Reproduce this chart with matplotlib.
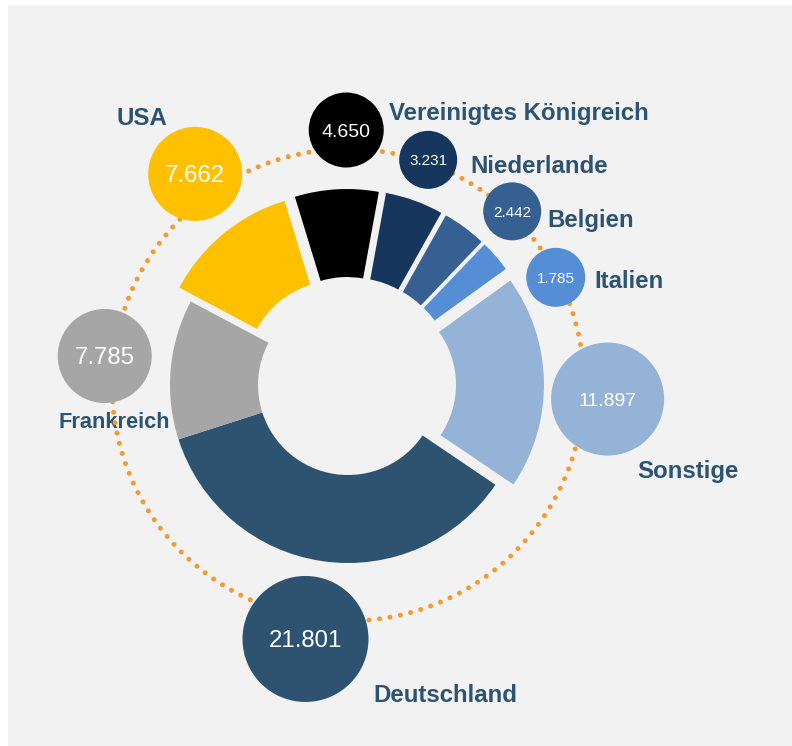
import numpy as np
import matplotlib.pyplot as plt
from matplotlib.patches import Circle, Rectangle

plt.rcParams['font.family'] = ['Liberation Sans', 'DejaVu Sans']

# Daten (im Uhrzeigersinn ab oben)
countries = ['Vereinigtes Königreich', 'Niederlande', 'Belgien', 'Italien',
             'Sonstige', 'Deutschland', 'Frankreich', 'USA']
values = [4650, 3231, 2442, 1785, 11897, 21801, 7785, 7662]
colors = ['#000000', '#17365d', '#376092', '#558ed5',
          '#95b3d7', '#2d5370', '#a6a6a6', '#ffc000']
explode = [18, 18, 18, 18, 18, 0, 0, 18]

# Blasen: Winkel (Grad), Abstand vom Mittelpunkt, Radius (px)
bubble_angle = [90.4, 70.4, 46.6, 27.4, -3.1, -99.5, 173.2, 125.9]
bubble_dist = [255, 239, 239, 234, 260, 257.5, 245, 260.6]
bubble_r = [37.5, 29, 29, 29.5, 56.5, 63, 47, 47]
value_size = [14, 11, 11, 11, 14, 17.3, 17.3, 17.3]

# Beschriftungen (Pixel, von oben gemessen)
label_x = [389, 470, 547, 594, 637, 373, 114.5, 142]
label_y = [120, 173, 227, 288, 478, 702, 428, 125]
label_ha = ['left'] * 6 + ['center', 'center']
label_size = [17.3, 17.3, 17.3, 17.3, 17.3, 17.3, 15.7, 17.3]

W, H = 792, 746
cx, cy = 348, H - 385
label_color = '#2d5372'
bg = '#f2f2f2'

fig = plt.figure(figsize=(W / 100, H / 100), dpi=100)
fig.patch.set_facecolor('white')
ax = fig.add_axes([0, 0, 1, 1])

ax.pie(values, colors=colors, explode=explode, startangle=107,
       counterclock=False, radius=178, center=(cx, cy),
       wedgeprops=dict(width=88, linewidth=0))

ax.set_xlim(0, W)
ax.set_ylim(0, H)
ax.set_aspect('equal')
ax.axis('off')

# grauer Hintergrund
ax.add_patch(Rectangle((8, 0), W - 8, H - 5, facecolor=bg,
                       edgecolor='none', zorder=0))

# gepunkteter Kreis
ax.add_patch(Circle((cx, cy), 236, fill=False, edgecolor='#f29b30',
                    linewidth=3.6, linestyle=(0, (0.01, 2.1)),
                    capstyle='round', zorder=2))

for i, name in enumerate(countries):
    a = np.deg2rad(bubble_angle[i])
    bx = cx + bubble_dist[i] * np.cos(a)
    by = cy + bubble_dist[i] * np.sin(a)
    ax.add_patch(Circle((bx, by), bubble_r[i], facecolor=colors[i],
                        edgecolor='none', zorder=3))
    txt = f"{values[i]:,}".replace(',', '.')
    ax.text(bx, by, txt, color='white', fontsize=value_size[i],
            ha='center', va='center_baseline', zorder=4)
    ax.text(label_x[i], H - label_y[i], name, color=label_color,
            fontsize=label_size[i], fontweight='bold', ha=label_ha[i],
            va='baseline', zorder=1.5)

fig.savefig('out.png', dpi=100, facecolor=fig.get_facecolor())
